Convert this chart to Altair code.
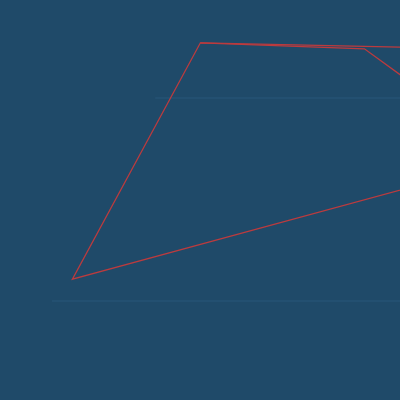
import altair as alt
import pandas as pd

# Line series (x, y in data units, 0-100 both axes); points beyond 100 are clipped
series = ["a", "a", "a", "a", "b", "b", "b"]
xs = [110.0, 18.1, 50.1, 110.0, 50.1, 91.1, 110.0]
ys = [55.2, 30.2, 89.3, 88.0, 89.3, 87.8, 74.1]
order = [0, 1, 2, 3, 0, 1, 2]

# faint horizontal gridlines: start x, end x, y
grid_x = [38.8, 13.0]
grid_x2 = [100.0, 100.0]
grid_y = [75.5, 24.75]

lines = pd.DataFrame({"s": series, "x": xs, "y": ys, "o": order})
grid = pd.DataFrame({"x": grid_x, "x2": grid_x2, "y": grid_y})

xsc = alt.Scale(domain=[0, 100], nice=False, zero=False)
ysc = alt.Scale(domain=[0, 100], nice=False, zero=False)

rules = alt.Chart(grid).mark_rule(color="#29567a", strokeWidth=1).encode(
    x=alt.X("x:Q", scale=xsc, axis=None),
    x2="x2:Q",
    y=alt.Y("y:Q", scale=ysc, axis=None),
)

line = alt.Chart(lines).mark_line(color="#bc3b3e", strokeWidth=1.3, clip=True).encode(
    x=alt.X("x:Q", scale=xsc, axis=None),
    y=alt.Y("y:Q", scale=ysc, axis=None),
    detail="s:N",
    order="o:Q",
)

chart = alt.layer(rules, line).properties(
    width=400, height=400, background="#1f4a69", padding=0,
    autosize=alt.AutoSizeParams(type="none"),
).configure_view(stroke=None)

chart.save("out.html", embed_options={
    "renderer": "svg", "actions": False,
    "defaultStyle": "html,body{margin:0;padding:0;overflow:hidden;background:#1f4a69}",
})
